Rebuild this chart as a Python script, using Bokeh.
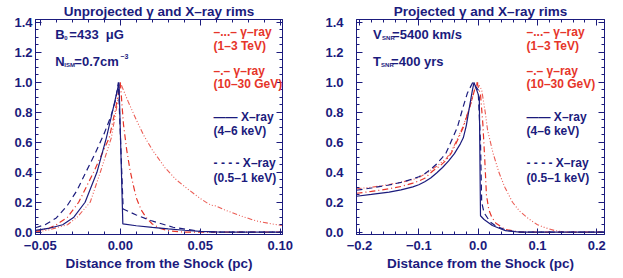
from bokeh.plotting import figure
from bokeh.models import (Range1d, LinearAxis, Label, SingleIntervalTicker,
                          CustomJSTickFormatter)
from bokeh.layouts import row
from bokeh.embed import file_html
from bokeh.resources import INLINE

NAVY = "#1b1b7d"
RED = "#e6352a"
FONT = "Liberation Sans"

# ---------------- data: unprojected rims (left panel) ----------------
u_hard_x = [-0.053, -0.045, -0.036, -0.029, -0.022, -0.0146, -0.0087, -0.005, -0.002, -0.0008,
            0.0016, 0.01, 0.02, 0.03, 0.04, 0.05, 0.06, 0.07, 0.101]
u_hard_y = [0.012, 0.025, 0.05, 0.10, 0.20, 0.40, 0.63, 0.80, 0.94, 1.0,
            0.055, 0.043, 0.032, 0.022, 0.013, 0.006, 0.002, 0.0, 0.0]

u_soft_x = [-0.053, -0.047, -0.040, -0.033, -0.027, -0.022, -0.016, -0.0104, -0.006, -0.003, -0.0012,
            0.0018, 0.01, 0.019, 0.033, 0.05, 0.06, 0.101]
u_soft_y = [0.03, 0.05, 0.095, 0.18, 0.28, 0.39, 0.52, 0.65, 0.77, 0.88, 1.0,
            0.155, 0.115, 0.078, 0.033, 0.006, 0.0, 0.0]

u_gev_x = [-0.053, -0.045, -0.040, -0.033, -0.026, -0.0167, -0.0069, -0.003, 0.0,
           0.002, 0.004, 0.006, 0.008, 0.010, 0.013, 0.016, 0.020, 0.025, 0.030, 0.040, 0.101]
u_gev_y = [0.005, 0.025, 0.05, 0.10, 0.20, 0.40, 0.63, 0.82, 1.0,
           0.72, 0.55, 0.42, 0.32, 0.23, 0.15, 0.10, 0.055, 0.025, 0.01, 0.0, 0.0]

u_tev_x = [-0.053, -0.045, -0.033, -0.027, -0.0188, -0.0125, -0.0056, -0.002, 0.0,
           0.005, 0.010, 0.015, 0.020, 0.028, 0.035, 0.042, 0.050, 0.055, 0.057, 0.060,
           0.065, 0.075, 0.085, 0.095, 0.101]
u_tev_y = [0.0, 0.015, 0.05, 0.10, 0.20, 0.40, 0.63, 0.85, 1.0,
           0.87, 0.75, 0.64, 0.55, 0.43, 0.35, 0.29, 0.225, 0.19, 0.18, 0.175,
           0.15, 0.11, 0.075, 0.055, 0.045]

# ---------------- data: projected rims (right panel) ----------------
p_hard_x = [-0.205, -0.18, -0.15, -0.13, -0.11, -0.10, -0.09, -0.08, -0.07, -0.06, -0.05,
            -0.04, -0.03, -0.025, -0.02, -0.014, -0.01, -0.007,
            0.002, 0.004, 0.010, 0.024, 0.046, 0.070, 0.213]
p_hard_y = [0.24, 0.252, 0.268, 0.283, 0.303, 0.317, 0.337, 0.362, 0.395, 0.432, 0.475,
            0.525, 0.59, 0.63, 0.71, 0.85, 0.94, 1.0,
            0.90, 0.11, 0.085, 0.045, 0.01, 0.0, 0.0]

p_soft_x = [-0.205, -0.18, -0.15, -0.13, -0.11, -0.10, -0.09, -0.08, -0.07, -0.06, -0.054,
            -0.045, -0.035, -0.025, -0.018, -0.009,
            0.0, 0.004, 0.006, 0.010, 0.020, 0.030, 0.050, 0.075, 0.213]
p_soft_y = [0.28, 0.295, 0.315, 0.333, 0.355, 0.37, 0.39, 0.42, 0.455, 0.50, 0.53,
            0.61, 0.70, 0.84, 0.93, 1.0,
            0.95, 0.60, 0.20, 0.13, 0.07, 0.04, 0.01, 0.0, 0.0]

p_gev_x = [-0.205, -0.18, -0.15, -0.13, -0.11, -0.10, -0.09, -0.076, -0.065, -0.054,
           -0.045, -0.034, -0.025, -0.013, -0.006, -0.002,
           0.004, 0.008, 0.011, 0.014, 0.018, 0.023, 0.030, 0.045, 0.070, 0.213]
p_gev_y = [0.26, 0.272, 0.29, 0.305, 0.328, 0.342, 0.36, 0.41, 0.44, 0.48,
           0.53, 0.62, 0.70, 0.85, 0.95, 1.0,
           0.92, 0.72, 0.50, 0.25, 0.15, 0.10, 0.06, 0.02, 0.0, 0.0]

p_tev_x = [-0.205, -0.18, -0.15, -0.13, -0.11, -0.10, -0.085, -0.07, -0.054,
           -0.045, -0.034, -0.025, -0.013, -0.006, -0.001,
           0.006, 0.012, 0.016, 0.025, 0.035, 0.045, 0.058, 0.070, 0.085, 0.100,
           0.113, 0.130, 0.150, 0.213]
p_tev_y = [0.29, 0.30, 0.318, 0.333, 0.352, 0.364, 0.40, 0.44, 0.49,
           0.54, 0.63, 0.71, 0.85, 0.95, 1.0,
           0.95, 0.80, 0.68, 0.53, 0.40, 0.30, 0.20, 0.14, 0.09, 0.05,
           0.03, 0.01, 0.0, 0.0]

# ---------------- text ----------------
titles = ["Unprojected \u03b3 and X\u2013ray rims", "Projected \u03b3 and X\u2013ray rims"]
xlabel = "Distance from the Shock (pc)"
legend_lines = [
    ("\u2013...\u2013  \u03b3\u2013ray", RED),
    ("(1\u20133 TeV)", RED),
    ("\u2013.\u2013  \u03b3\u2013ray", RED),
    ("(10\u201330 GeV)", RED),
    ("\u2014\u2014  X\u2013ray", NAVY),
    ("(4\u20136 keV)", NAVY),
    ("- - - -  X\u2013ray", NAVY),
    ("(0.5\u20131 keV)", NAVY),
]
legend_y = [1.337, 1.24, 1.074, 0.988, 0.768, 0.676, 0.463, 0.363]


def style_axis(ax, show_labels, fmt_digits, ticker, standoff=3):
    ax.ticker = ticker
    ax.axis_line_color = NAVY
    ax.axis_line_width = 1
    ax.major_tick_line_color = NAVY
    ax.minor_tick_line_color = NAVY
    ax.major_tick_in = 6
    ax.major_tick_out = 0
    ax.minor_tick_in = 3
    ax.minor_tick_out = 0
    ax.major_label_text_color = NAVY
    ax.major_label_text_font = FONT
    ax.major_label_text_font_style = "bold"
    ax.major_label_text_font_size = "13px"
    if show_labels:
        ax.formatter = CustomJSTickFormatter(
            code="var s = (Math.abs(tick) < 1e-9 ? 0 : tick).toFixed(%d); return s.replace('-', '\\u2212');" % fmt_digits)
        ax.major_label_standoff = standoff
    else:
        ax.formatter = CustomJSTickFormatter(code="return '';")
        ax.major_label_standoff = 0


def add_label(p, x, y, text, color=NAVY, size="12px", align="left", xoff=0, yoff=0):
    p.add_layout(Label(x=x, y=y, text=text, text_color=color, text_font=FONT,
                       text_font_style="bold", text_font_size=size, text_align=align,
                       text_baseline="middle", x_offset=xoff, y_offset=yoff))


def make_panel(xr, width, border_left, border_right, x_int, x_digits, ystandoff,
               series, title, legend_x, params):
    p = figure(width=width, height=277, output_backend="svg", toolbar_location=None,
               x_range=Range1d(*xr), y_range=Range1d(-0.0153, 1.42),
               min_border_left=border_left, min_border_right=border_right,
               min_border_top=18, min_border_bottom=43, x_axis_location=None,
               y_axis_location=None, title=title)
    p.title.align = "center"
    p.title.text_font = FONT
    p.title.text_font_style = "bold"
    p.title.text_font_size = "13.5px"
    p.title.text_color = NAVY
    p.title.standoff = 2
    p.grid.visible = False
    p.outline_line_color = NAVY
    p.background_fill_color = "white"
    p.border_fill_color = "white"

    xt = lambda: SingleIntervalTicker(interval=x_int, num_minor_ticks=5)
    yt = lambda: SingleIntervalTicker(interval=0.2, num_minor_ticks=4)

    bx = LinearAxis()
    style_axis(bx, True, x_digits, xt(), standoff=6)
    bx.axis_label = xlabel
    bx.axis_label_text_font = FONT
    bx.axis_label_text_font_style = "bold"
    bx.axis_label_text_font_size = "13.5px"
    bx.axis_label_text_color = NAVY
    bx.axis_label_standoff = 3
    p.add_layout(bx, "below")

    tx = LinearAxis()
    style_axis(tx, False, x_digits, xt())
    p.add_layout(tx, "above")

    ly = LinearAxis()
    style_axis(ly, True, 1, yt(), standoff=ystandoff)
    p.add_layout(ly, "left")

    ry = LinearAxis()
    style_axis(ry, False, 1, yt())
    p.add_layout(ry, "right")

    (hx, hy), (sx, sy), (gx, gy), (vx, vy) = series
    p.line(vx, vy, line_color=RED, line_width=1.1, line_dash="5 2 1 2 1 2 1 2", line_alpha=0.8)
    p.line(gx, gy, line_color=RED, line_width=1.2, line_dash="6 3 1 3")
    p.line(sx, sy, line_color=NAVY, line_width=1.2, line_dash="6 4")
    p.line(hx, hy, line_color=NAVY, line_width=1.2)

    for (txt, col), yy in zip(legend_lines, legend_y):
        add_label(p, legend_x, yy, txt, color=col)

    for (px_, py_, main, sub, rest, sub_off, rest_off, sup) in params:
        add_label(p, px_, py_, main, size="13px")
        add_label(p, px_, py_, sub, size="6px", xoff=sub_off, yoff=-4)
        add_label(p, px_, py_, rest, size="13px", xoff=rest_off)
        if sup:
            add_label(p, px_, py_, sup[0], size="7px", xoff=sup[1], yoff=5)
    return p


p1 = make_panel((-0.053, 0.1014), 311, 35, 29, 0.05, 2, 3,
                [(u_hard_x, u_hard_y), (u_soft_x, u_soft_y), (u_gev_x, u_gev_y), (u_tev_x, u_tev_y)],
                titles[0], 0.0583,
                [(-0.0406, 1.32, "B", "0", "=433\u00a0\u00a0\u03bcG", 9, 14, None),
                 (-0.0406, 1.14, "N", "ISM", "=0.7cm", 9, 19, ("\u22123", 65))])

p2 = make_panel((-0.205, 0.213), 311, 45, 18, 0.1, 1, 13,
                [(p_hard_x, p_hard_y), (p_soft_x, p_soft_y), (p_gev_x, p_gev_y), (p_tev_x, p_tev_y)],
                titles[1], 0.0816,
                [(-0.177, 1.32, "V", "SNR", "=5400 km/s", 9, 19, None),
                 (-0.177, 1.14, "T", "SNR", "=400 yrs", 8, 18, None)])

layout = row(p1, p2)
open("out.html", "w").write(file_html(layout, INLINE))
